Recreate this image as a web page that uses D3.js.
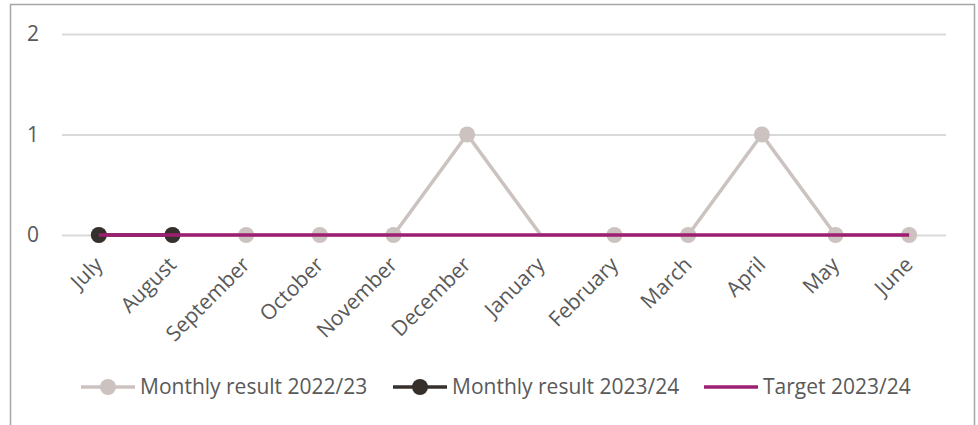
<!DOCTYPE html>
<html>
<head>
<meta charset="utf-8">
<script src="https://cdn.jsdelivr.net/npm/d3@7"></script>
<style>
  body { margin: 0; background: #fff; }
  svg text { font-family: "Open Sans", sans-serif; fill: #595959; }
</style>
</head>
<body>
<div id="chart"></div>
<script>
// data
const months = ["July", "August", "September", "October", "November", "December",
                "January", "February", "March", "April", "May", "June"];
const result2223 = [0, 0, 0, 0, 0, 1, 0, 0, 0, 1, 0, 0];
const result2324 = [0, 0, null, null, null, null, null, null, null, null, null, null];
const target2324 = [0, 0, 0, 0, 0, 0, 0, 0, 0, 0, 0, 0];
const yTicks = [0, 1, 2];
// months where the 2022/23 marker is not shown
const hiddenMarkers = ["January"];

const W = 978, H = 425;
const plot = { left: 62, right: 946, top: 34, bottom: 235 };

const svg = d3.select("#chart").append("svg")
    .attr("width", W)
    .attr("height", H);

// outer frame
svg.append("rect")
    .attr("x", 10.5).attr("y", 4.5)
    .attr("width", 964).attr("height", 430)
    .attr("fill", "none")
    .attr("stroke", "#a6a6a6")
    .attr("stroke-width", 1.5);

const x = d3.scaleBand()
    .domain(months)
    .range([plot.left, plot.right]);

const y = d3.scaleLinear()
    .domain([0, 2])
    .range([plot.bottom, plot.top]);

const cx = m => x(m) + x.bandwidth() / 2;

// gridlines + y labels
const yAxis = svg.append("g")
    .attr("transform", `translate(${plot.left},0)`)
    .call(d3.axisLeft(y).tickValues(yTicks).tickSize(-(plot.right - plot.left)).tickFormat(d3.format("d")));
yAxis.select(".domain").remove();
yAxis.selectAll(".tick line").attr("stroke", "#d9d9d9").attr("stroke-width", 2);
yAxis.selectAll(".tick text")
    .attr("x", -29)
    .style("text-anchor", "middle")
    .style("font-size", "21px");

// x labels
const xAxis = svg.append("g")
    .attr("transform", `translate(0,${plot.bottom})`)
    .call(d3.axisBottom(x).tickSize(0));
xAxis.select(".domain").remove();
xAxis.selectAll(".tick text")
    .style("font-size", "21px")
    .style("text-anchor", "end")
    .attr("x", 0).attr("y", 0).attr("dy", 0)
    .attr("transform", "translate(5,31) rotate(-45)");

const line = d3.line()
    .defined(d => d.v != null)
    .x(d => cx(d.m))
    .y(d => y(d.v));

const rows = arr => months.map((m, i) => ({ m: m, v: arr[i] }));

// 2022/23 series
svg.append("path")
    .datum(rows(result2223))
    .attr("fill", "none")
    .attr("stroke", "#ccc3c0")
    .attr("stroke-width", 3.5)
    .attr("d", line);
svg.append("g").selectAll("circle")
    .data(rows(result2223).filter(d => !hiddenMarkers.includes(d.m)))
    .join("circle")
    .attr("cx", d => cx(d.m))
    .attr("cy", d => y(d.v))
    .attr("r", 8)
    .attr("fill", "#ccc3c0");

// 2023/24 series
const cur = rows(result2324).filter(d => d.v != null);
svg.append("path")
    .datum(cur)
    .attr("fill", "none")
    .attr("stroke", "#36302d")
    .attr("stroke-width", 3.5)
    .attr("d", line);
svg.append("g").selectAll("circle")
    .data(cur)
    .join("circle")
    .attr("cx", d => cx(d.m))
    .attr("cy", d => y(d.v))
    .attr("r", 8)
    .attr("fill", "#36302d");

// target
svg.append("path")
    .datum(rows(target2324))
    .attr("fill", "none")
    .attr("stroke", "#9e1f72")
    .attr("stroke-width", 3.5)
    .attr("d", line);

// legend
const legendItems = [
    { name: "Monthly result 2022/23", color: "#ccc3c0", marker: true, x0: 81 },
    { name: "Monthly result 2023/24", color: "#36302d", marker: true, x0: 393 },
    { name: "Target 2023/24", color: "#9e1f72", marker: false, x0: 704 }
];
const legend = svg.append("g").selectAll("g")
    .data(legendItems)
    .join("g")
    .attr("transform", d => `translate(${d.x0},387)`);
legend.append("line")
    .attr("x1", 0).attr("x2", 54)
    .attr("stroke", d => d.color)
    .attr("stroke-width", 3.5);
legend.filter(d => d.marker).append("circle")
    .attr("cx", 27).attr("r", 8)
    .attr("fill", d => d.color);
legend.append("text")
    .attr("x", 59)
    .attr("dy", "0.35em")
    .style("font-size", "21px")
    .text(d => d.name);
</script>
</body>
</html>
